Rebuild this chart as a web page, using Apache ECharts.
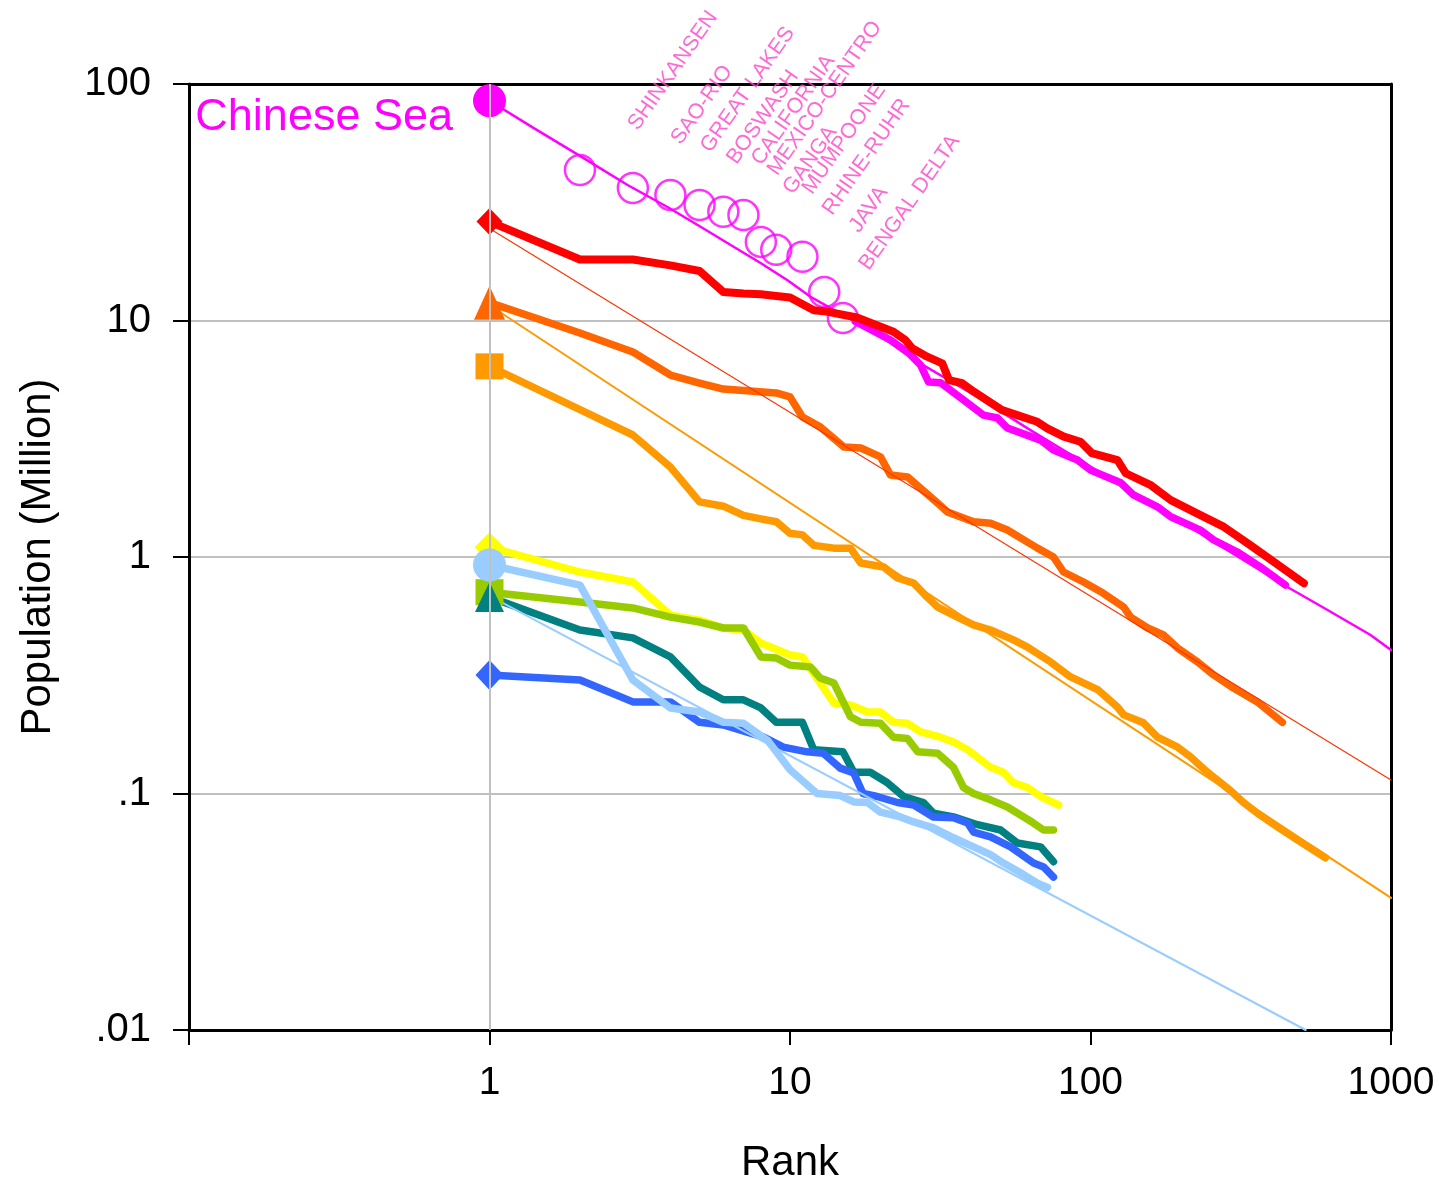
<!DOCTYPE html>
<html><head><meta charset="utf-8">
<script src="https://cdn.jsdelivr.net/npm/echarts@6/dist/echarts.min.js"></script>
<style>html,body{margin:0;padding:0;background:#fff}#c{width:1439px;height:1180px}</style>
</head><body><div id="c"></div>
<script>
// ---------- tick labels ----------
const xTickLabels = ['', '1', '10', '100', '1000'];      // 0.1 .. 1000
const yTickLabels = ['.01', '.1', '1', '10', '100'];     // 0.01 .. 100

// ---------- world megalopolises (magenta) ----------
const worldRank = [1, 1.4, 2.05, 2.88, 3.91, 5.04, 6.49, 7.98, 9.81, 11.7, 13.6, 16.8, 21.6, 26.6, 42.1, 63.1, 100, 200, 452, 615, 855, 1000];
const worldPop  = [85, 65.2, 48.7, 37.4, 30.2, 24.9, 20.5, 17.5, 14.8, 12.6, 11.3, 9.76, 8.03, 6.68, 4.75, 3.44, 2.41, 1.41, 0.747, 0.597, 0.468, 0.404];

const megaNames = ['SHINKANSEN', 'SAO-RIO', 'GREAT LAKES', 'BOSWASH', 'CALIFORNIA', 'MEXICO-CENTRO', 'GANGA', 'MUMPOONE', 'RHINE-RUHR', 'JAVA', 'BENGAL DELTA'];
const megaRank  = [2, 3, 4, 5, 6, 7, 8, 9, 11, 13, 15];
const megaPop   = [43.3, 36.3, 33.9, 30.8, 28.8, 27.9, 21.5, 19.9, 18.6, 13.2, 10.25];

const magRank = [16.5, 21.6, 24.8, 27.2, 28.9, 31.7, 37.8, 44.1, 49.0, 52.9, 68.2, 75.3, 90.5, 100, 126, 139, 167, 185, 232, 257, 308, 368, 445];
const magPop  = [9.9, 8.27, 7.29, 6.48, 5.5, 5.45, 4.61, 3.98, 3.87, 3.51, 3.12, 2.83, 2.57, 2.33, 2.06, 1.83, 1.63, 1.48, 1.30, 1.18, 1.05, 0.907, 0.761];

// ---------- red ----------
const redRank = [1,2,3,4,5,6,7,8,9,10,12,13,16.7,22.1,24.2,25.5,28.6,32.1,33.8,37.4,40.9,50.8,57.0,66.5,71.8,81.5,92.6,101,123,131,158,185,226,278,341,407,513];
const redPop  = [26.2,18.1,18.1,17.1,16.2,13.2,13.0,12.9,12.7,12.5,11.05,10.95,10.3,8.97,8.27,7.63,7.03,6.59,5.60,5.43,5.0,4.18,3.98,3.73,3.5,3.23,3.07,2.75,2.57,2.26,2.02,1.74,1.53,1.34,1.12,0.955,0.774];
const redFitRank = [1, 1000];
const redFitPop  = [24.5, 0.114];

// ---------- dark orange ----------
const dkoRank = [1,2,3,4,5,6,9,10,11,12.6,15.1,17.2,20,21.6,24.6,31.0,33.4,40.8,46.5,52.9,66.6,75.3,81.3,94.8,110,129,136,155,175,195,227,257,299,359,435];
const dkoPop  = [11.9,8.86,7.36,5.88,5.44,5.13,4.94,4.75,3.91,3.55,2.92,2.89,2.65,2.22,2.18,1.69,1.55,1.41,1.39,1.30,1.09,1.0,0.864,0.784,0.704,0.614,0.557,0.501,0.468,0.412,0.36,0.317,0.279,0.244,0.2];

// ---------- orange ----------
const orgRank = [1,2,3,4,5,6,7,8,9,10,11,12,14,15.9,17.2,20.5,22.8,25.8,28.6,31,36.1,40.8,46.5,55.4,61.7,73.6,85.8,106,123,129,150,167,195,215,245,292,323,359,419,488,605];
const orgPop  = [6.4,4.2,3.28,2.40,1.71,1.64,1.50,1.45,1.41,1.26,1.24,1.12,1.09,1.09,0.943,0.907,0.815,0.776,0.677,0.614,0.557,0.516,0.491,0.446,0.416,0.36,0.311,0.274,0.232,0.215,0.199,0.173,0.157,0.143,0.123,0.103,0.0916,0.0826,0.0723,0.0636,0.0535];
const orgFitRank = [1, 1000];
const orgFitPop  = [11.6, 0.0362];

// ---------- yellow ----------
const yelRank = [1,2,3,4,5,6,7,8,10,11,12.4,14,15.9,18.1,20,22.1,24.6,27.2,31.7,35,39,43.1,46.5,51.3,55.4,61.7,68.2,78.3];
const yelPop  = [1.1,0.864,0.784,0.568,0.541,0.501,0.491,0.433,0.385,0.378,0.302,0.241,0.237,0.221,0.221,0.2,0.198,0.182,0.173,0.165,0.153,0.139,0.129,0.123,0.111,0.106,0.0971,0.0894];

// ---------- green ----------
const grnRank = [1,2,3,4,5,6,7,8,9,10,11.7,12.6,14,15.9,17.2,20,22.1,24.6,26.6,31,35,37.8,40.8,46.5,52.9,58.5,64.6,69.8,75.3];
const grnPop  = [0.71,0.645,0.609,0.557,0.531,0.501,0.501,0.378,0.374,0.349,0.343,0.308,0.293,0.211,0.2,0.198,0.173,0.171,0.15,0.148,0.129,0.106,0.1,0.094,0.0877,0.0811,0.075,0.0701,0.0701];

// ---------- teal ----------
const tealRank = [1,2,3,4,5,6,7,8,9,11,12,15,16.3,18.5,21.1,23.9,27.8,30,35,42.1,50.2,57.1,68.2,75.3];
const tealPop  = [0.677,0.491,0.455,0.378,0.282,0.249,0.249,0.23,0.2,0.2,0.153,0.15,0.123,0.123,0.111,0.0971,0.0916,0.0826,0.0796,0.0738,0.0701,0.0618,0.0595,0.0515];

// ---------- blue ----------
const bluRank = [1,2,3,4,5,6,7.39,8.17,9.5,11.4,12.9,14.7,16.3,17.5,19.5,22.8,25.8,30,35,39,40.8,46.5,54.2,64.6,69.8,75.3];
const bluPop  = [0.317,0.302,0.244,0.244,0.2,0.195,0.18,0.173,0.157,0.15,0.148,0.128,0.122,0.1,0.0971,0.0916,0.0894,0.0796,0.0789,0.075,0.0687,0.0656,0.0595,0.0508,0.0489,0.0443];

// ---------- light blue ----------
const lbRank = [1,2,3,4,5,6,7,8.42,10,12.3,14.7,16.3,18.1,20,23.3,25.8,30,35,40.8,46.5,51.3,58.5,66.6,71.9];
const lbPop  = [0.925,0.761,0.302,0.23,0.221,0.2,0.198,0.168,0.126,0.1,0.098,0.0921,0.0916,0.0834,0.0796,0.0758,0.0716,0.065,0.0595,0.0551,0.0508,0.0462,0.0418,0.0401];
const lbFitRank = [1, 520];
const lbFitPop  = [0.685, 0.01];

// ---------- styling ----------
const FONT = 'Liberation Sans, Arial, sans-serif';
const LABEL_ROT = 55;
// screen-space nudge (px) of each rotated megalopolis label from its circle (style only)
const labelShift = [[53,-42],[43,-46],[35,-45],[32,-43],[33,-49],[29,-42],[27,-50],[31,-58],[25,-44],[30,-62],[21,-50]];

function pts(r, v) { return r.map((x, i) => [x, v[i]]); }
function toLocal(s) {
  const a = LABEL_ROT * Math.PI / 180, c = Math.cos(a), n = Math.sin(a);
  return [c * s[0] - n * s[1], n * s[0] + c * s[1]];
}

function thick(color, ranks, pops, marker, msize, width) {
  return {
    type: 'line', data: pts(ranks, pops), silent: true, animation: false,
    showSymbol: true, showAllSymbol: true,
    symbol: (val, p) => p.dataIndex === 0 ? marker : 'none',
    symbolSize: msize,
    itemStyle: { color: color, opacity: 1 },
    lineStyle: { color: color, width: width, join: 'round', cap: 'round' }
  };
}
function thin(color, ranks, pops, width) {
  return {
    type: 'line', data: pts(ranks, pops), silent: true, animation: false,
    showSymbol: false, symbol: 'none',
    lineStyle: { color: color, width: width, join: 'round', cap: 'round' }
  };
}

const worldData = pts(worldRank, worldPop);
worldData[0] = {
  value: worldData[0],
  label: { show: true, formatter: 'Chinese Sea', position: 'left', distance: 20, offset: [0, 17],
           color: '#ff00ff', fontSize: 45, fontFamily: FONT }
};
const worldSeries = thin('#ff00ff', worldRank, worldPop, 2.5);
worldSeries.data = worldData;
worldSeries.showSymbol = true;
worldSeries.showAllSymbol = true;
worldSeries.symbol = (val, p) => p.dataIndex === 0 ? 'circle' : 'none';
worldSeries.symbolSize = 33;
worldSeries.itemStyle = { color: '#ff00ff' };

const megaData = pts(megaRank, megaPop).map((d, i) => ({
  value: d,
  label: { offset: toLocal(labelShift[i]) }
}));

const series = [
  worldSeries,
  thick('#ff00ff', magRank, magPop, 'none', 1, 7.5),
  thick('#ff0000', redRank, redPop, 'diamond', [26, 27], 8),
  thick('#ff6600', dkoRank, dkoPop, 'triangle', [31, 34], 7.5),
  thick('#ff9900', orgRank, orgPop, 'rect', [28, 26], 7.5),
  thin('#ff3300', redFitRank, redFitPop, 1.2),
  thin('#ff9900', orgFitRank, orgFitPop, 2),
  thick('#ffff00', yelRank, yelPop, 'diamond', [30, 30], 7.5),
  thick('#99cc00', grnRank, grnPop, 'rect', [28, 26], 7.5),
  thick('#008080', tealRank, tealPop, 'triangle', [29, 30], 7.5),
  thick('#3366ff', bluRank, bluPop, 'diamond', [28, 30], 7.5),
  thick('#99ccff', lbRank, lbPop, 'circle', 33, 7.5),
  thin('#99ccff', lbFitRank, lbFitPop, 2),
  {
    type: 'scatter', data: megaData, silent: true, animation: false,
    symbol: 'circle', symbolSize: 30,
    itemStyle: { color: 'rgba(255,255,255,0)', borderColor: '#ff00ff', borderWidth: 2.5 },
    label: {
      show: true, formatter: p => megaNames[p.dataIndex], position: 'inside',
      rotate: LABEL_ROT, align: 'left', verticalAlign: 'middle',
      color: '#ff44c8', fontSize: 21.5, fontFamily: FONT
    }
  },
  {
    type: 'line', data: [], silent: true, animation: false,
    markLine: {
      silent: true, animation: false, symbol: ['none', 'none'], label: { show: false },
      lineStyle: { color: '#c0c0c0', width: 2, type: 'solid' },
      data: [{ xAxis: 1 }]
    }
  }
];

const frameAxis = { show: true, lineStyle: { color: '#000', width: 3 } };

const chart = echarts.init(document.getElementById('c'), null, { renderer: 'canvas' });
chart.setOption({
  animation: false,
  backgroundColor: '#ffffff',
  textStyle: { fontFamily: FONT },
  grid: { left: 189, right: 48, top: 84, bottom: 150, show: false, containLabel: false, outerBoundsMode: 'none' },
  xAxis: [{
    type: 'log', logBase: 10, min: 0.1, max: 1000,
    name: 'Rank', nameLocation: 'middle', nameGap: 112,
    nameTextStyle: { color: '#000', fontSize: 42, fontFamily: FONT },
    axisLine: frameAxis,
    axisTick: { show: true, inside: false, length: 15, lineStyle: { color: '#000', width: 2 } },
    axisLabel: { color: '#000', fontSize: 39, fontFamily: FONT, margin: 34,
                 formatter: v => xTickLabels[Math.round(Math.log10(v)) + 1] },
    splitLine: { show: false },
    minorTick: { show: false }
  }, {
    type: 'log', logBase: 10, min: 0.1, max: 1000, position: 'top',
    axisLine: frameAxis, axisTick: { show: false }, axisLabel: { show: false }, splitLine: { show: false }
  }],
  yAxis: [{
    type: 'log', logBase: 10, min: 0.01, max: 100,
    name: 'Population (Million)', nameLocation: 'middle', nameGap: 130, nameRotate: 90,
    nameTextStyle: { color: '#000', fontSize: 42, fontFamily: FONT },
    axisLine: frameAxis,
    axisTick: { show: true, inside: false, length: 16, lineStyle: { color: '#000', width: 2 } },
    axisLabel: { color: '#000', fontSize: 40, fontFamily: FONT, margin: 38,
                 formatter: v => yTickLabels[Math.round(Math.log10(v)) + 2] },
    splitLine: { show: true, showMinLine: false, showMaxLine: false, lineStyle: { color: '#c0c0c0', width: 2 } },
    minorTick: { show: false }
  }, {
    type: 'log', logBase: 10, min: 0.01, max: 100, position: 'right',
    axisLine: frameAxis, axisTick: { show: false }, axisLabel: { show: false }, splitLine: { show: false }
  }],
  series: series
});
</script>
</body></html>
